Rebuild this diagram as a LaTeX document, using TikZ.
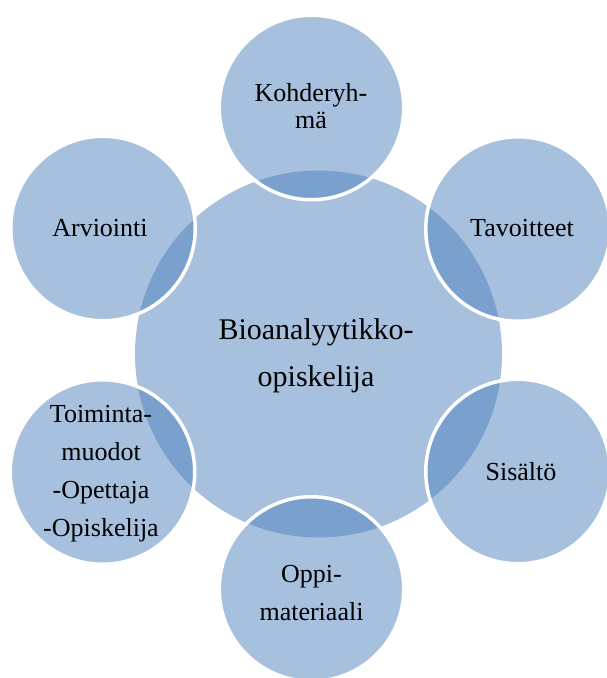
\documentclass[tikz,border=0pt]{standalone}
\usepackage{fontspec}
\setmainfont{Liberation Serif}
\definecolor{petal}{RGB}{79,129,189}
\begin{document}
\begin{tikzpicture}[x=1pt,y=-1pt,
  hub/.style={circle, fill=petal, fill opacity=0.5, draw=none,
    minimum size=367pt, inner sep=0pt, outer sep=0pt},
  petalc/.style={circle, fill=petal, fill opacity=0.5, draw=white, draw opacity=1,
    line width=3.5pt, minimum size=184.5pt, inner sep=0pt, outer sep=0pt},
  lbl/.style={anchor=base, align=center, text=black, text opacity=1, inner sep=0pt,
    font=\fontsize{26}{38}\selectfont},
  tightlbl/.style={lbl, font=\fontsize{26}{26.6}\selectfont},
  hublbl/.style={lbl, font=\fontsize{30}{47}\selectfont}]
\useasboundingbox (0,0) rectangle (607,678);

% central hub
\node[hub] (hub) at (318.5,354) {};

% surrounding circles, clockwise from the top
\node[petalc] (kohde)  at (311.5,107.5) {};
\node[petalc] (tavoit) at (518,229) {};
\node[petalc] (sisalt) at (518,471.5) {};
\node[petalc] (oppi)   at (311.5,589) {};
\node[petalc] (toimi)  at (102.5,472) {};
\node[petalc] (arvio)  at (103,228.5) {};

% labels (anchored at the baseline of their last line)
\node[hublbl]   (hubtxt)    at (316,386)   {Bioanalyytikko-\\opiskelija};
\node[tightlbl] (kohdetxt)  at (311,128.3) {Kohderyh-\\mä};
\node[lbl]      (tavoittxt) at (522,236.7) {Tavoitteet};
\node[lbl]      (sisalttxt) at (521,480)   {Sisältö};
\node[lbl]      (oppitxt)   at (311.5,620) {Oppi-\\materiaali};
\node[lbl]      (toimitxt)  at (101,536.7) {Toiminta-\\muodot\\-Opettaja\\-Opiskelija};
\node[lbl]      (arviotxt)  at (100,236.7) {Arviointi};
\end{tikzpicture}
\end{document}
